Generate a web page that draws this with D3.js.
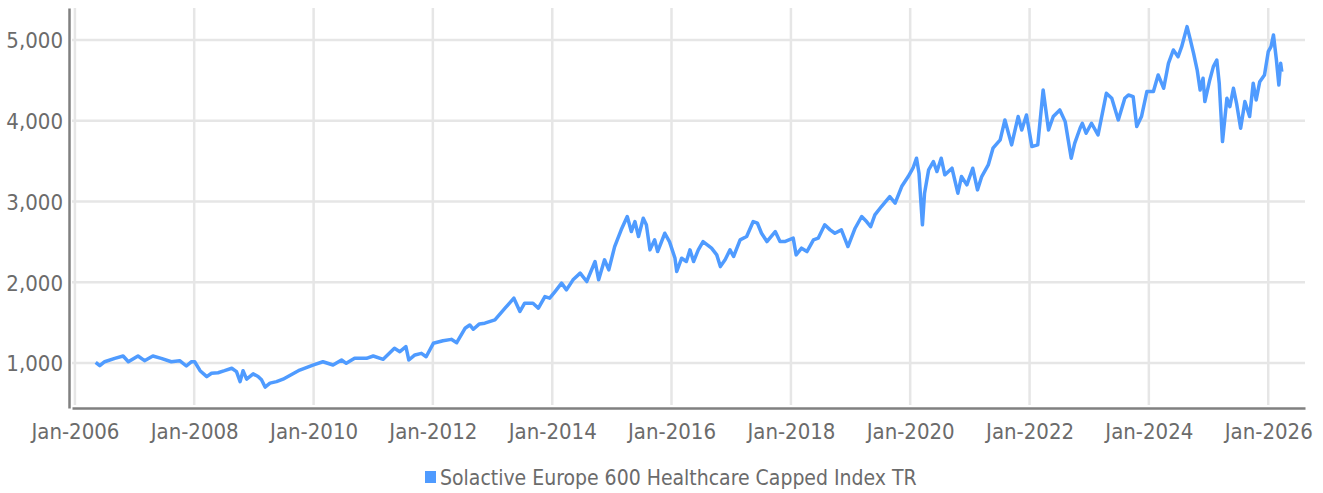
<!DOCTYPE html>
<html>
<head>
<meta charset="utf-8">
<script src="https://cdn.jsdelivr.net/npm/d3@7"></script>
<style>
  body { margin: 0; background: #fff; }
  #chart text { font-family: "DejaVu Sans Condensed", "Liberation Sans Narrow", sans-serif; font-stretch: condensed; fill: #6b6b6b; }
</style>
</head>
<body>
<div id="chart"></div>
<script>
var seriesName = "Solactive Europe 600 Healthcare Capped Index TR";

var dates = [
  "2006-05-08","2006-06-02","2006-07-02","2006-09-02","2006-10-23","2006-11-24",
  "2007-01-22","2007-03-03","2007-04-23","2007-06-13","2007-08-14","2007-10-04","2007-11-14","2007-12-16",
  "2008-01-04","2008-02-06","2008-03-18","2008-04-16","2008-05-26","2008-07-05","2008-08-18","2008-09-16",
  "2008-10-08","2008-10-26","2008-11-17","2008-12-27",
  "2009-01-26","2009-02-16","2009-03-10","2009-04-09","2009-05-19","2009-06-28","2009-10-08",
  "2010-01-01","2010-02-27","2010-04-30","2010-06-21","2010-07-20","2010-09-09","2010-11-21",
  "2011-01-01","2011-03-03","2011-05-11","2011-06-13","2011-07-20","2011-08-07","2011-09-13","2011-10-23","2011-11-21",
  "2012-01-04","2012-03-03","2012-04-23","2012-05-26","2012-07-16","2012-08-14","2012-09-05","2012-10-12","2012-11-14",
  "2013-01-15","2013-03-18","2013-05-11","2013-06-17","2013-07-16","2013-09-05","2013-10-08","2013-11-17","2013-12-16",
  "2014-01-18","2014-02-27","2014-03-29","2014-05-08","2014-06-21","2014-07-31","2014-09-20","2014-10-12","2014-11-17","2014-12-13",
  "2015-01-18","2015-02-27","2015-04-05","2015-04-30","2015-05-22","2015-06-13","2015-07-12","2015-07-31","2015-08-22",
  "2015-09-20","2015-10-08","2015-11-21","2015-12-20",
  "2016-01-22","2016-02-02","2016-03-03","2016-04-01","2016-04-23","2016-05-15","2016-06-13","2016-07-12","2016-09-02",
  "2016-10-04","2016-10-26","2016-11-24","2016-12-24",
  "2017-01-15","2017-02-24","2017-04-05","2017-05-15","2017-06-10","2017-07-05","2017-08-07","2017-09-27","2017-10-26","2017-11-24",
  "2018-01-15","2018-02-02","2018-03-07","2018-04-09","2018-05-19","2018-06-17","2018-07-27","2018-08-29","2018-09-27",
  "2018-11-06","2018-12-16",
  "2019-01-29","2019-03-10","2019-04-09","2019-05-04","2019-05-30","2019-07-09","2019-08-29","2019-10-01","2019-11-10","2019-12-20",
  "2020-01-18","2020-02-09","2020-02-24","2020-03-16","2020-03-29","2020-04-23","2020-05-22","2020-06-13","2020-07-09",
  "2020-07-31","2020-09-13","2020-10-19","2020-11-10","2020-12-13",
  "2021-01-18","2021-02-16","2021-03-14","2021-04-23","2021-05-22","2021-07-05","2021-08-03","2021-09-13","2021-10-23",
  "2021-11-14","2021-12-13",
  "2022-01-15","2022-02-20","2022-03-25","2022-04-27","2022-05-26","2022-07-05","2022-08-07","2022-09-13","2022-10-04",
  "2022-11-06","2022-11-20","2022-12-13",
  "2023-01-15","2023-02-24","2023-04-16","2023-05-19","2023-06-28","2023-08-07","2023-08-29","2023-09-27","2023-10-19",
  "2023-11-17","2023-12-20",
  "2024-01-29","2024-02-27","2024-04-01","2024-04-30","2024-05-30","2024-06-28","2024-07-20","2024-08-22","2024-09-09",
  "2024-10-01","2024-10-23","2024-11-10","2024-11-28","2024-12-09",
  "2025-01-08","2025-01-30","2025-02-20","2025-03-07","2025-03-27","2025-04-23","2025-05-11","2025-06-02","2025-06-21",
  "2025-07-16","2025-08-11","2025-09-09","2025-10-01","2025-10-19","2025-11-10","2025-12-09",
  "2026-01-01","2026-01-18","2026-02-02","2026-02-20","2026-03-07","2026-03-18","2026-03-25"
];

var values = [
  1008, 967, 1016, 1058, 1087, 1016,
  1087, 1029, 1087, 1058, 1016, 1029, 963, 1016,
  1016, 905, 831, 873, 880, 905, 935, 893,
  770, 905, 800, 866,
  833, 792, 702, 751, 770, 800, 913,
  978, 1016, 975, 1037, 996, 1058, 1058,
  1087, 1046, 1182, 1140, 1202, 1037, 1100, 1120, 1078,
  1244, 1276, 1293, 1251, 1430, 1471, 1418, 1484, 1493,
  1535, 1679, 1803, 1638, 1741, 1741, 1679, 1823, 1803,
  1885, 1989, 1906, 2030, 2113, 2009, 2257, 2030, 2278, 2154,
  2442, 2649, 2814, 2628, 2752, 2566, 2793, 2711, 2401,
  2525, 2380, 2607, 2500,
  2300, 2133, 2298, 2257, 2401, 2257, 2401, 2504, 2422,
  2339, 2194, 2278, 2401,
  2319, 2525, 2566, 2752, 2731, 2607, 2504, 2628, 2504, 2504,
  2546, 2339, 2422, 2380, 2525, 2546, 2711, 2649, 2607,
  2649, 2442,
  2669, 2814, 2752, 2690, 2834, 2938, 3061, 2979, 3185, 3309,
  3412, 3536, 3350, 2711, 3103, 3392, 3495, 3371, 3536,
  3330, 3412, 3103, 3309, 3206,
  3412, 3144, 3309, 3453, 3660, 3763, 4010, 3701, 4052,
  3886, 4072,
  3680, 3701, 4381, 3886, 4052, 4134, 3989, 3536, 3720,
  3907, 3969, 3845,
  3969, 3824, 4340, 4278, 4010, 4278, 4319, 4299, 3928,
  4052, 4361,
  4361, 4567, 4402, 4711, 4876, 4793, 4917, 5165, 5020,
  4835, 4628, 4381, 4526, 4237,
  4505, 4670, 4752, 4464, 3742, 4278, 4175, 4402, 4216,
  3907, 4237, 4052, 4464, 4257, 4484, 4567,
  4855, 4917, 5062, 4752, 4443, 4711, 4608
];

var yTicks = [1000, 2000, 3000, 4000, 5000];
var xTickYears = [2006, 2008, 2010, 2012, 2014, 2016, 2018, 2020, 2022, 2024, 2026];

(function() {
  var width = 1323, height = 493;
  var m = {left: 72, right: 1305, top: 8, bottom: 408};

  var parseDate = d3.timeParse("%Y-%m-%d");
  var data = dates.map(function(d, i) { return {date: parseDate(d), val: values[i]}; });

  var x = d3.scaleTime()
      .domain([new Date(2005, 11, 14), new Date(2026, 7, 14)])
      .range([m.left, m.right]);

  var y = d3.scaleLinear()
      .domain([443, 5396])
      .range([m.bottom, m.top]);

  var svg = d3.select("#chart").append("svg")
      .attr("width", width)
      .attr("height", height);

  // grid
  svg.append("g").selectAll("line")
      .data(yTicks)
    .enter().append("line")
      .attr("x1", m.left).attr("x2", m.right)
      .attr("y1", function(d) { return y(d); })
      .attr("y2", function(d) { return y(d); })
      .attr("stroke", "#e6e6e6")
      .attr("stroke-width", 2.5);

  var xTicks = xTickYears.map(function(yr) { return new Date(yr, 0, 1); });

  svg.append("g").selectAll("line")
      .data(xTicks)
    .enter().append("line")
      .attr("x1", function(d) { return x(d); })
      .attr("x2", function(d) { return x(d); })
      .attr("y1", m.top).attr("y2", m.bottom - 3)
      .attr("stroke", "#e6e6e6")
      .attr("stroke-width", 2.5);

  // axes
  var yAxis = svg.append("g")
      .attr("transform", "translate(" + (m.left - 3) + ",0)")
      .call(d3.axisLeft(y).tickValues(yTicks).tickSize(0).tickPadding(6).tickFormat(d3.format(",")));
  yAxis.select(".domain").attr("stroke", "#808080").attr("stroke-width", 2.5);
  yAxis.selectAll("text").style("font-size", "22px").attr("dy", "0.36em");

  var xAxis = svg.append("g")
      .attr("transform", "translate(0," + m.bottom + ")")
      .call(d3.axisBottom(x).tickValues(xTicks).tickSize(0).tickPadding(15).tickFormat(d3.timeFormat("%b-%Y")));
  xAxis.select(".domain").attr("stroke", "#808080").attr("stroke-width", 2.5);
  xAxis.selectAll("text").style("font-size", "22px");

  // series
  var line = d3.line()
      .x(function(d) { return x(d.date); })
      .y(function(d) { return y(d.val); });

  svg.append("path")
      .datum(data)
      .attr("fill", "none")
      .attr("stroke", "#4f9bff")
      .attr("stroke-width", 3.5)
      .attr("stroke-linejoin", "round")
      .attr("d", line);

  // legend
  var legend = svg.append("g").attr("transform", "translate(425,471)");
  legend.append("rect")
      .attr("width", 11).attr("height", 12)
      .attr("fill", "#4f9bff");
  legend.append("text")
      .attr("x", 15).attr("y", 14)
      .style("font-size", "21px")
      .text(seriesName);
})();
</script>
</body>
</html>
